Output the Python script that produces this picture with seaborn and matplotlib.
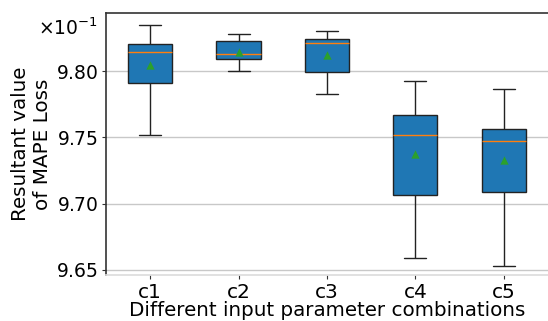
import matplotlib
matplotlib.use("Agg")
import matplotlib.pyplot as plt
import matplotlib.ticker as mticker
import seaborn as sns
import pandas as pd

categories = ["c1", "c2", "c3", "c4", "c5"]
whisker_low = [0.97521, 0.98002, 0.97830, 0.96588, 0.96531]
q1 = [0.97914, 0.98089, 0.97992, 0.97066, 0.97084]
median = [0.98143, 0.98127, 0.98211, 0.97521, 0.97476]
q3 = [0.98206, 0.98231, 0.98244, 0.97672, 0.97563]
whisker_high = [0.98346, 0.98280, 0.98305, 0.97929, 0.97863]
means = [0.98048, 0.98143, 0.98124, 0.97374, 0.97330]

rows = []
for i, c in enumerate(categories):
    for v in (whisker_low[i], q1[i], median[i], q3[i], whisker_high[i]):
        rows.append({"combo": c, "loss": v})
df = pd.DataFrame(rows)
mean_df = pd.DataFrame({"combo": categories, "loss": means})

sns.set_theme(style="white")
plt.rcParams["font.family"] = ["DejaVu Sans"]
plt.rcParams["text.color"] = "black"
plt.rcParams["axes.labelcolor"] = "black"
plt.rcParams["xtick.color"] = "black"
plt.rcParams["ytick.color"] = "black"

fig = plt.figure(figsize=(5.48, 3.21), dpi=100)
ax = fig.add_axes([0.1934, 0.1433, 0.8066, 0.8162])

sns.boxplot(data=df, x="combo", y="loss", order=categories, ax=ax,
            color="#1f77b4", saturation=1, width=0.5, whis=(0, 100),
            linecolor="#222222", linewidth=1.0,
            medianprops={"color": "#ff7f0e", "linewidth": 1.0},
            showfliers=False)
sns.stripplot(data=mean_df, x="combo", y="loss", order=categories, ax=ax,
              jitter=False, marker="^", color="#2ca02c", size=6, zorder=5)

ax.set_xlim(-0.5, 4.5)
ax.set_ylim(0.96460, 0.98440)
ax.yaxis.set_major_locator(mticker.MultipleLocator(0.005))
ax.ticklabel_format(axis="y", style="sci", scilimits=(0, 0), useMathText=True)
ax.yaxis.get_offset_text().set_visible(False)
ax.text(-0.018, 0.94, r"$\times10^{-1}$", transform=ax.transAxes,
        ha="right", va="center", fontsize=13.5, color="black")

ax.yaxis.grid(True, color="#c8c8c8", linewidth=1.0)
ax.xaxis.grid(False)
ax.set_axisbelow(True)

for side in ("left", "top"):
    ax.spines[side].set_color("#333333")
    ax.spines[side].set_linewidth(1.2)
ax.spines["bottom"].set_color("#dddddd")
ax.spines["right"].set_visible(False)

ax.tick_params(axis="both", length=3, width=0.8, color="#333333",
               left=True, bottom=True, pad=3)
ax.tick_params(axis="y", labelsize=13.5)
ax.tick_params(axis="x", labelsize=14.5)
ax.set_xlabel("Different input parameter combinations", fontsize=14.3, labelpad=-1)
ax.set_ylabel("Resultant value\nof MAPE Loss", fontsize=14.3)
ax.yaxis.set_label_coords(-0.122, 0.5)

fig.savefig("out.png", dpi=100)
